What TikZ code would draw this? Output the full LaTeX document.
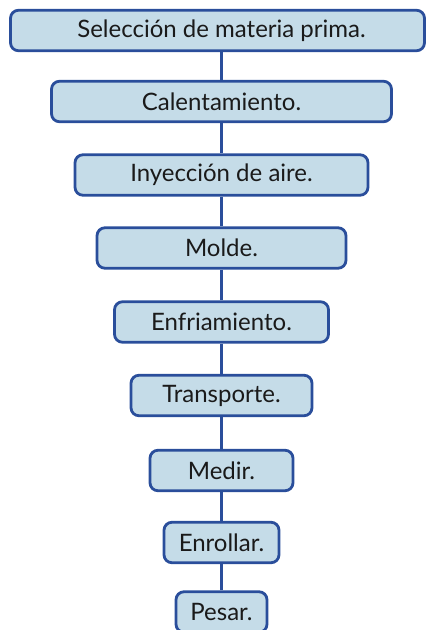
\documentclass[tikz,border=0pt]{standalone}
\usepackage{fontspec}
\setmainfont{Lato}
\definecolor{boxfill}{HTML}{C5DCE8}
\definecolor{boxline}{HTML}{2A4E9B}
\definecolor{txt}{HTML}{1A1A1A}
\begin{document}
\begin{tikzpicture}[x=1pt,y=-1pt,
  stepbox/.style={draw=boxline,fill=boxfill,line width=2.8pt,rounded corners=8pt,
    minimum height=40.5pt,inner sep=0pt,text=txt,font=\fontsize{24}{26}\selectfont},
  conn/.style={draw=boxline,line width=2.8pt}]
\useasboundingbox (0,0) rectangle (427,630);
\clip (0,0) rectangle (427,630);
\node[stepbox,minimum width=414pt] (a) at (217.5,30.5) {\hspace*{8pt}Selección de materia prima.};
\node[stepbox,minimum width=340pt] (b) at (221.5,101.5) {Calentamiento.};
\node[stepbox,minimum width=293pt] (c) at (221.5,175) {Inyección de aire.};
\node[stepbox,minimum width=249pt] (d) at (221.5,248) {Molde.};
\node[stepbox,minimum width=214pt] (e) at (221.5,322) {Enfriamiento.};
\node[stepbox,minimum width=181pt] (f) at (221.5,395.5) {Transporte.};
\node[stepbox,minimum width=143pt] (g) at (221.5,470.5) {Medir.};
\node[stepbox,minimum width=115pt] (h) at (221.5,542.5) {Enrollar.};
\node[stepbox,minimum width=91pt] (i) at (221.5,612) {Pesar.};
\draw[conn] (a.south -| b.north) -- (b.north);
\foreach \u/\v in {b/c,c/d,d/e,e/f,f/g,g/h,h/i}
  \draw[conn] (\u.south) -- (\v.north);
\end{tikzpicture}
\end{document}
